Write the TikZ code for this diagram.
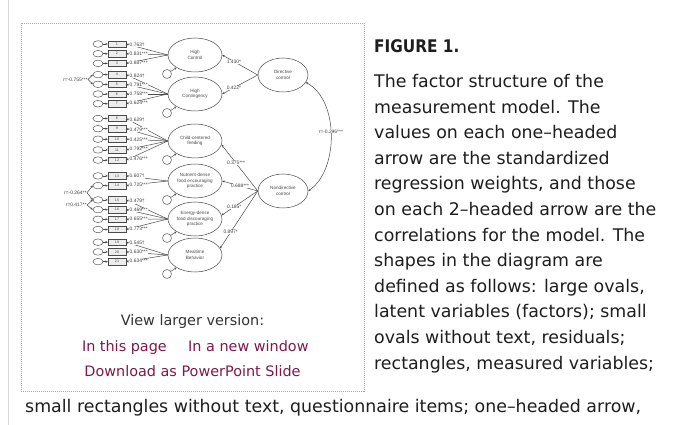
\documentclass[tikz,border=0pt]{standalone}
\usepackage{fontspec}
\usepackage{graphicx}
\setmainfont{DejaVu Sans}
\newfontfamily\diagfont{Liberation Sans}
\usetikzlibrary{arrows.meta,shapes.geometric,calc}
\definecolor{ink}{RGB}{75,75,75}
\definecolor{bodytext}{RGB}{30,30,30}
\definecolor{linkred}{RGB}{125,25,75}
\definecolor{frame}{RGB}{170,170,170}
\tikzset{
  item/.style={draw=ink, fill=gray!14, line width=0.45pt, minimum width=18pt,
    minimum height=6.4pt, inner sep=0pt,
    font=\diagfont\fontsize{3.6}{4}\selectfont, text=ink},
  resid/.style={ellipse, draw=ink, line width=0.45pt, minimum width=10pt,
    minimum height=6.6pt, inner sep=0pt},
  latent/.style={ellipse, draw=ink, line width=0.5pt, minimum width=54pt,
    minimum height=34pt, inner sep=0pt, align=center,
    font=\diagfont\fontsize{4.6}{5.3}\selectfont, text=ink},
  dist/.style={circle, draw=ink, line width=0.45pt, minimum size=9pt, inner sep=0pt},
  arr/.style={draw=ink, line width=0.5pt, -{Stealth[length=2.4pt,width=2.2pt]}},
  darr/.style={draw=ink, line width=0.5pt,
    {Stealth[length=2.4pt,width=2.2pt]}-{Stealth[length=2.4pt,width=2.2pt]}},
  lbl/.style={font=\diagfont\fontsize{4.9}{5}\selectfont, text=black!75,
    fill=white, inner sep=0.35pt},
  body/.style={anchor=base west, font=\fontsize{17.4}{20}\selectfont,
    text=bodytext, inner sep=0pt},
  side/.style={anchor=base, font=\fontsize{14.4}{17}\selectfont, inner sep=0pt},
}
\begin{document}
\begin{tikzpicture}[x=1pt,y=-1pt]
\useasboundingbox (0,0) rectangle (686,425);
\fill[white] (0,0) rectangle (686,425);

% page edge and figure frame
\draw[gray!30, line width=0.6pt] (8,0) -- (8,425);
\draw[frame, line width=0.6pt, dash pattern=on 1pt off 1pt] (21,23) rectangle (364,391);

% ---------- measurement model ----------
% questionnaire items with their residuals
\foreach \i/\y in {1/44, 2/53.7, 3/63.4, 4/74.6, 5/84.3, 6/94, 7/103.7,
                   8/118.5, 9/128.7, 10/139.2, 11/149.9, 12/160.1,
                   13/175.9, 14/185.6, 15/199.9, 16/209.6, 17/219.3, 18/229.5,
                   19/242.2, 20/251.9, 21/261.6}{
  \node[item] (x\i) at (117,\y) {\i};
  \node[resid] (e\i) at (98,\y) {};
  \draw[arr] (e\i) -- (x\i);
}

% first-order factors
\node[latent] (HC)  at (195,55)  {High\\Control};
\node[latent] (HCo) at (195,94)  {High\\Contingency};
\node[latent] (CC)  at (195,141) {Child-centered\\feeding};
\node[latent] (ND)  at (195,181) {Nutrient-dense\\food encouraging\\practice};
\node[latent] (ED)  at (195,219) {Energy-dense\\food discouraging\\practice};
\node[latent] (MB)  at (195,255) {Mealtime\\Behavior};

% factor disturbances
\foreach \L in {HC,HCo,CC,ND,ED,MB}{
  \node[dist] (d\L) at ($(\L)+(-28,19)$) {};
  \draw[arr] (d\L) -- (\L);
}

% loadings
\foreach \i/\f/\v in {1/HC/{0.763†}, 2/HC/{0.831***}, 3/HC/{0.887***},
    4/HCo/{0.824†}, 5/HCo/{0.791***}, 6/HCo/{0.758***}, 7/HCo/{0.624***},
    8/CC/{0.629†}, 9/CC/{0.479***}, 10/CC/{0.425***}, 11/CC/{0.792***}, 12/CC/{0.476***},
    13/ND/{0.607†}, 14/ND/{0.725***},
    15/ED/{0.479†}, 16/ED/{0.469***}, 17/ED/{0.655***}, 18/ED/{0.773***},
    19/MB/{0.545†}, 20/MB/{0.630***}, 21/MB/{0.634***}}{
  \draw[arr] (\f.west) -- node[lbl, pos=0.93, anchor=west] {\v} (x\i.east);
}

% residual correlations
\node[lbl, anchor=east] (r1) at (88,79.5) {r=-0.755***};
\draw[darr] (e4.west) -- (r1.east) -- (e5.west);
\node[lbl, anchor=east] (r2) at (87,192.7) {r=-0.264**};
\draw[darr] (e14.west) -- (r2.east) -- (e15.west);
\node[lbl, anchor=east] (r3) at (87,205) {r=0.417**};
\draw[darr] (e15.west) -- (r3.east) -- (e16.west);

% second-order factors
\node[latent, minimum width=50pt] (D) at (283,75)  {Directive\\control};
\node[latent, minimum width=50pt] (N) at (283,191) {Nondirective\\control};

\draw[arr] (D.west) -- node[lbl, pos=0.67] {1.430*} (HC.east);
\draw[arr] (D.west) -- node[lbl, pos=0.67] {0.422*} (HCo.east);
\draw[arr] (N.west) -- node[lbl, pos=0.6] {0.375***} (CC.-8);
\draw[arr] (N.west) -- node[lbl, pos=0.5] {0.688***} (ND.east);
\draw[arr] (N.west) -- node[lbl, pos=0.65] {0.185*} (ED.8);
\draw[arr] (N.west) -- node[lbl, pos=0.72] {0.897*} (MB.15);

\draw[darr] (D.-18) .. controls (339,100) and (339,170) ..
  node[lbl, pos=0.47] {r=-0.296***} (N.east);

% ---------- links under the figure ----------
\node[side, text=black!80] (view) at (192.5,325) {View larger version:};
\node[side, anchor=base east, text=linkred] (inpage) at (167,351) {In this page};
\node[side, anchor=base west, text=linkred] (newwin) at (188,351) {In a new window};
\node[side, text=linkred] (ppt) at (192.5,376) {Download as PowerPoint Slide};

% ---------- caption ----------
\node[body, font=\bfseries\fontsize{17.4}{20}\selectfont] (title) at (374,53)
  {\scalebox{0.88}[1]{FIGURE 1.}};
\node[body] (c0)  at (374,87.5)  {The factor structure of the};
\node[body] (c1)  at (374,113.1) {measurement model. The};
\node[body] (c2)  at (374,138.7) {values on each one–headed};
\node[body] (c3)  at (374,164.3) {arrow are the standardized};
\node[body] (c4)  at (374,189.9) {regression weights, and those};
\node[body] (c5)  at (374,215.5) {on each 2–headed arrow are the};
\node[body] (c6)  at (374,241.1) {correlations for the model. The};
\node[body] (c7)  at (374,266.7) {shapes in the diagram are};
\node[body] (c8)  at (374,292.3) {defined as follows: large ovals,};
\node[body] (c9)  at (374,317.9) {latent variables (factors); small};
\node[body] (c10) at (374,343.5) {ovals without text, residuals;};
\node[body] (c11) at (374,369.1) {rectangles, measured variables;};
\node[body] (c12) at (25,412.5)  {small rectangles without text, questionnaire items; one–headed arrow,};
\end{tikzpicture}
\end{document}
